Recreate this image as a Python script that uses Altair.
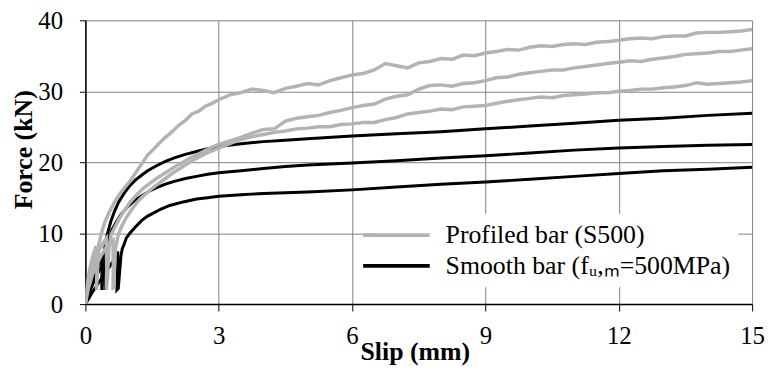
import altair as alt
import pandas as pd

# ---------------- data ----------------
PROFILED = "Profiled bar (S500)"
SMOOTH = "Smooth bar (fᵤ,ₘ=500MPa)"

g1_x = [0, 0.04, 0.1, 0.17, 0.24, 0.26, 0.25, 0.27, 0.3, 0.36, 0.44, 0.54, 0.64, 0.76, 0.88, 1.0,
        1.13, 1.27, 1.4, 1.5, 1.65, 1.8, 1.95, 2.1, 2.25, 2.4, 2.55, 2.7, 2.85,
        3.0, 3.25, 3.5, 3.75, 4.0, 4.25, 4.5, 4.75, 5.0, 5.25, 5.5, 5.75, 6.0, 6.25, 6.5, 6.75,
        7.0, 7.25, 7.5, 7.75, 8.0, 8.25, 8.5, 8.75, 9.0, 9.25, 9.5, 9.75, 10.0, 10.25, 10.5, 10.75,
        11.0, 11.25, 11.5, 11.75, 12.0, 12.25, 12.5, 12.75, 13.0, 13.25, 13.5, 13.75, 14.0, 14.25,
        14.5, 14.75, 15.0]
g1_y = [0, 2.6, 5.0, 6.8, 8.2, 5.0, 2.0, 4.5, 8.4, 10.0, 11.6, 13.0, 14.2, 15.4, 16.4, 17.3,
        18.5, 19.8, 21.0, 21.6, 22.6, 23.5, 24.3, 25.2, 25.9, 26.8, 27.2, 27.9, 28.3,
        28.8, 29.5, 29.8, 30.3, 30.1, 29.8, 30.4, 30.7, 31.1, 30.9, 31.5, 31.9, 32.3, 32.5, 33.0, 33.9,
        33.6, 33.3, 34.0, 34.2, 34.6, 34.5, 35.1, 35.0, 35.4, 35.6, 35.9, 35.8, 36.2, 36.4, 36.3, 36.6,
        36.7, 36.6, 36.9, 37.0, 37.2, 37.4, 37.5, 37.4, 37.7, 37.8, 37.8, 38.2, 38.3, 38.3,
        38.4, 38.5, 38.7]

g2_x = [0, 0.05, 0.12, 0.2, 0.3, 0.4, 0.47, 0.48, 0.47, 0.5, 0.53, 0.58, 0.66, 0.76, 0.88, 1.0,
        1.15, 1.3, 1.45, 1.6, 1.75, 1.9, 2.05, 2.2, 2.35, 2.5, 2.65, 2.8,
        3.0, 3.25, 3.5, 3.75, 4.0, 4.25, 4.5, 4.75, 5.0, 5.25, 5.5, 5.75, 6.0, 6.25, 6.5, 6.75,
        7.0, 7.25, 7.5, 7.75, 8.0, 8.25, 8.5, 8.75, 9.0, 9.25, 9.5, 9.75, 10.0, 10.25, 10.5, 10.75,
        11.0, 11.25, 11.5, 11.75, 12.0, 12.25, 12.5, 12.75, 13.0, 13.25, 13.5, 13.75, 14.0, 14.25,
        14.5, 14.75, 15.0]
g2_y = [0, 2.5, 4.5, 6.0, 7.5, 8.6, 9.2, 5.0, 2.0, 4.0, 8.0, 9.8, 10.8, 12.0, 13.2, 14.3,
        15.4, 16.3, 17.0, 17.7, 18.3, 18.9, 19.5, 20.0, 20.6, 21.0, 21.5, 22.0,
        22.5, 23.0, 23.5, 24.1, 24.6, 24.7, 25.8, 26.2, 26.4, 26.6, 27.0, 27.3, 27.7, 28.0, 28.2, 28.9,
        29.3, 29.5, 30.3, 30.8, 30.9, 30.7, 31.1, 31.2, 31.5, 31.9, 32.0, 32.4, 32.6, 32.8, 33.0, 33.0,
        33.3, 33.5, 33.7, 33.9, 34.1, 34.3, 34.2, 34.5, 34.7, 34.9, 35.2, 35.3, 35.4, 35.6,
        35.6, 35.8, 36.0]

g3_x = [0, 0.06, 0.15, 0.25, 0.35, 0.45, 0.55, 0.62, 0.63, 0.62, 0.65, 0.68, 0.74, 0.82, 0.92, 1.05,
        1.2, 1.35, 1.5, 1.65, 1.8, 1.95, 2.1, 2.25, 2.4, 2.55, 2.7, 2.85,
        3.0, 3.25, 3.5, 3.75, 4.0, 4.25, 4.5, 4.75, 5.0, 5.25, 5.5, 5.75, 6.0, 6.25, 6.5, 6.75,
        7.0, 7.25, 7.5, 7.75, 8.0, 8.25, 8.5, 8.75, 9.0, 9.25, 9.5, 9.75, 10.0, 10.25, 10.5, 10.75,
        11.0, 11.25, 11.5, 11.75, 12.0, 12.25, 12.5, 12.75, 13.0, 13.25, 13.5, 13.75, 14.0, 14.25,
        14.5, 14.75, 15.0]
g3_y = [0, 2.0, 4.0, 5.5, 6.8, 7.8, 8.6, 9.0, 5.0, 2.0, 4.5, 8.0, 9.8, 11.0, 12.2, 13.4,
        14.6, 15.5, 16.3, 17.0, 17.7, 18.4, 19.0, 19.6, 20.2, 20.7, 21.2, 21.6,
        22.0, 22.6, 23.2, 23.6, 23.9, 24.2, 24.4, 24.7, 24.8, 25.0, 25.0, 25.3, 25.4, 25.6, 25.6, 26.0,
        26.3, 26.8, 27.0, 27.2, 27.5, 27.4, 27.8, 27.9, 28.0, 28.3, 28.6, 28.8, 29.0, 29.2, 29.1, 29.4,
        29.5, 29.6, 29.8, 29.8, 30.0, 30.1, 30.3, 30.3, 30.5, 30.6, 30.8, 31.2, 31.0, 31.1,
        31.2, 31.3, 31.5]

b1_x = [0, 0.1, 0.2, 0.3, 0.38, 0.37, 0.37, 0.39, 0.41, 0.45, 0.5, 0.57, 0.65, 0.75, 0.87, 1.0,
        1.13, 1.27, 1.4, 1.6, 1.8, 2.0, 2.25, 2.5, 2.75, 3.0, 3.5, 4.0, 4.5, 5.0, 6.0, 7.0, 8.0,
        9.0, 10.0, 11.0, 12.0, 13.0, 14.0, 15.0]
b1_y = [0, 2.4, 4.2, 5.6, 6.6, 4.0, 2.0, 4.0, 6.5, 8.6, 10.0, 11.6, 13.0, 14.4, 15.6, 16.7,
        17.5, 18.2, 18.8, 19.5, 20.1, 20.6, 21.1, 21.5, 21.9, 22.2, 22.6, 22.9, 23.1, 23.3, 23.7, 24.0, 24.3,
        24.7, 25.1, 25.5, 25.9, 26.2, 26.6, 26.9]

b2_x = [0, 0.1, 0.2, 0.3, 0.4, 0.45, 0.44, 0.44, 0.46, 0.49, 0.54, 0.6, 0.7, 0.8, 0.92, 1.05,
        1.2, 1.4, 1.6, 1.8, 2.0, 2.25, 2.5, 2.75, 3.0, 3.5, 4.0, 4.5, 5.0, 6.0, 7.0, 8.0,
        9.0, 10.0, 11.0, 12.0, 13.0, 14.0, 15.0]
b2_y = [0, 1.8, 3.3, 4.6, 5.8, 6.4, 4.0, 2.0, 4.0, 7.0, 9.4, 10.5, 11.6, 12.6, 13.5, 14.3,
        15.0, 15.8, 16.4, 16.9, 17.3, 17.7, 18.0, 18.3, 18.5, 18.8, 19.1, 19.4, 19.6, 19.9, 20.2, 20.6,
        20.9, 21.3, 21.7, 22.0, 22.2, 22.4, 22.5]

b3_x = [0, 0.15, 0.3, 0.45, 0.6, 0.7, 0.73, 0.72, 0.71, 0.74, 0.77, 0.8, 0.83, 0.87, 0.92, 1.0,
        1.13, 1.27, 1.4, 1.55, 1.7, 1.9, 2.2, 2.5, 2.75, 3.0, 3.5, 4.0, 4.5, 5.0, 6.0, 7.0, 8.0,
        9.0, 10.0, 11.0, 12.0, 13.0, 14.0, 15.0]
b3_y = [0, 1.6, 3.0, 4.4, 5.8, 6.8, 7.4, 4.0, 2.0, 2.2, 4.5, 6.8, 7.8, 8.4, 9.3, 10.0,
        10.9, 11.8, 12.4, 12.9, 13.4, 13.9, 14.4, 14.8, 15.0, 15.2, 15.4, 15.6, 15.7, 15.8, 16.1, 16.5, 16.9,
        17.2, 17.6, 18.0, 18.4, 18.8, 19.0, 19.3]

x_ticks = [0, 3, 6, 9, 12, 15]
y_ticks = [0, 10, 20, 30, 40]

# ---------------- table ----------------
curves = [
    ("B1", SMOOTH, b1_x, b1_y), ("B2", SMOOTH, b2_x, b2_y), ("B3", SMOOTH, b3_x, b3_y),
    ("G1", PROFILED, g1_x, g1_y), ("G2", PROFILED, g2_x, g2_y), ("G3", PROFILED, g3_x, g3_y),
]
rows = []
for name, grp, xs, ys in curves:
    for i, (xv, yv) in enumerate(zip(xs, ys)):
        rows.append({"test": name, "group": grp, "idx": i, "slip": xv, "force": yv})
df = pd.DataFrame(rows)

FONT = "Liberation Serif, Times New Roman, serif"

color = alt.Color(
    "group:N",
    scale=alt.Scale(domain=[PROFILED, SMOOTH], range=["#b3b3b3", "#000000"]),
    legend=alt.Legend(
        title=None, orient="none", legendX=292, legendY=195, direction="vertical",
        symbolType="M-3,0H3", symbolSize=500, symbolStrokeWidth=4,
        labelFont=FONT, labelFontSize=26, labelColor="black", labelOffset=36,
        labelLimit=0, rowPadding=4, padding=8, fillColor="white",
    ),
)

x_enc = alt.X(
    "slip:Q",
    scale=alt.Scale(domain=[0, 15], nice=False),
    axis=alt.Axis(
        values=x_ticks, title="Slip (mm)", grid=True, labelFlush=False,
        tickSize=7, labelPadding=13, titleX=332, titleY=56, titleBaseline="alphabetic",
    ),
)
y_enc = alt.Y(
    "force:Q",
    scale=alt.Scale(domain=[0, 40], nice=False),
    axis=alt.Axis(
        values=y_ticks, title="Force (kN)", grid=True, tickSize=6, labelPadding=17,
        titleX=-62, titleY=130, titleAngle=270, titleAlign="center", titleBaseline="middle",
    ),
)

smooth = alt.Chart(df[df["group"] == SMOOTH]).mark_line(strokeWidth=3, clip=True).encode(
    x=x_enc, y=y_enc, color=color, detail="test:N", order=alt.Order("idx:Q")
)
profiled = alt.Chart(df[df["group"] == PROFILED]).mark_line(strokeWidth=3.5, clip=True).encode(
    x=x_enc, y=y_enc, color=color, detail="test:N", order=alt.Order("idx:Q")
)

chart = (
    alt.layer(smooth, profiled)
    .properties(
        width=672, height=286,
        autosize=alt.AutoSizeParams(type="none"),
        padding={"left": 78, "top": 11, "right": 15, "bottom": 61},
        background="white",
    )
    .configure_view(stroke=None)
    .configure_axis(
        labelFont=FONT, labelFontSize=25, labelColor="black",
        titleFont=FONT, titleFontSize=26, titleFontWeight="bold", titleColor="black",
        gridColor="#808080", gridWidth=1, gridOpacity=1,
        domainColor="black", domainWidth=1.5, tickColor="black", tickWidth=1,
    )
)

chart.save("out.html", embed_options={"renderer": "svg", "actions": False})
